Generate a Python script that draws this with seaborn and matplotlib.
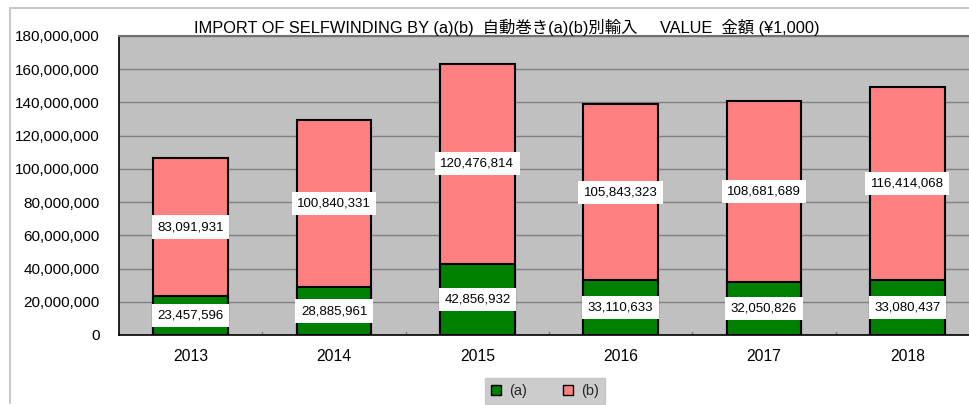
import matplotlib
matplotlib.use("Agg")
import matplotlib.pyplot as plt
from matplotlib.lines import Line2D
from matplotlib.patches import Patch
from matplotlib.ticker import StrMethodFormatter, FixedLocator
import numpy as np
import pandas as pd
import seaborn as sns

# data
years = ["2013", "2014", "2015", "2016", "2017", "2018"]
value_a = [23457596, 28885961, 42856932, 33110633, 32050826, 33080437]
value_b = [83091931, 100840331, 120476814, 105843323, 108681689, 116414068]
title = "IMPORT OF SELFWINDING BY (a)(b)  自動巻き(a)(b)別輸入     VALUE  金額 (¥1,000)"

GREEN = "#008000"
PINK = "#FF8080"
PLOT_BG = "#C0C0C0"
GRID = "#808080"

sns.set_theme(style="white")
plt.rcParams["font.family"] = ["Liberation Sans", "Noto Sans CJK JP", "DejaVu Sans"]

df = pd.DataFrame({"year": years, "a": value_a, "b": value_b})
df["total"] = df["a"] + df["b"]

fig = plt.figure(figsize=(9.69, 4.05), dpi=100)
ax = fig.add_axes([119 / 969, (405 - 335) / 405, 860 / 969, 299 / 405])
ax.set_facecolor(PLOT_BG)

sns.barplot(data=df, x="year", y="total", color=PINK, saturation=1,
            width=0.52, edgecolor="black", linewidth=1.5, ax=ax, zorder=2)
sns.barplot(data=df, x="year", y="a", color=GREEN, saturation=1,
            width=0.52, edgecolor="black", linewidth=1.5, ax=ax, zorder=3)

ax.set_ylim(0, 180_000_000)
ax.set_xlim(-0.5, len(years) - 0.5)
ax.yaxis.set_major_locator(FixedLocator(np.arange(0, 180_000_001, 20_000_000)))
ax.yaxis.set_major_formatter(StrMethodFormatter("{x:,.0f}"))
ax.grid(axis="y", color=GRID, linewidth=1.0, zorder=0)
ax.set_axisbelow(True)
ax.set_xlabel("")
ax.set_ylabel("")
ax.tick_params(axis="y", length=0, pad=14, labelsize=11, colors="black")
ax.tick_params(axis="x", length=0, pad=10, labelsize=11.3, colors="black")

# small boundary ticks on the category axis
for xb in np.arange(0.5, len(years) - 0.5, 1.0):
    ax.plot([xb, xb], [0, 1_800_000], color=GRID, linewidth=1, zorder=1)

for side in ["left", "bottom"]:
    ax.spines[side].set_color("black")
    ax.spines[side].set_linewidth(1.2)
ax.spines["top"].set_color("#707070")
ax.spines["top"].set_linewidth(1.5)
ax.spines["right"].set_visible(False)

# value labels in white boxes
for i, (a, b) in enumerate(zip(value_a, value_b)):
    for yc, v in [(a / 2, a), (a + b / 2, b)]:
        ax.text(i, yc, f"{v:,}", ha="center", va="center", fontsize=9.5,
                color="black", zorder=5,
                bbox=dict(boxstyle="square,pad=0.42", facecolor="white",
                          edgecolor="none"))

fig.text(507 / 969, 1 - 27 / 405, title, ha="center", va="center",
         fontsize=11.8, color="black")

# legend
handles = [Patch(facecolor=GREEN, edgecolor="black", label="(a)"),
           Patch(facecolor=PINK, edgecolor="black", label="(b)")]
leg = fig.legend(handles=handles, loc="center", ncol=2,
                 bbox_to_anchor=(545 / 969, 1 - 391 / 405), frameon=True,
                 fontsize=10.5, handlelength=0.7, handleheight=0.7,
                 handletextpad=0.6, columnspacing=2.4, borderpad=0.4,
                 fancybox=False)
leg.get_frame().set_facecolor(PLOT_BG)
leg.get_frame().set_edgecolor(PLOT_BG)

# outer chart frame lines
fig.add_artist(Line2D([10 / 969, 1], [1 - 8 / 405, 1 - 8 / 405],
                      color="#C8C8C8", linewidth=1.5))
fig.add_artist(Line2D([10 / 969, 10 / 969], [1 - 8 / 405, 1 - 403 / 405],
                      color="#C8C8C8", linewidth=1.5))

fig.savefig("out.png", dpi=100)
